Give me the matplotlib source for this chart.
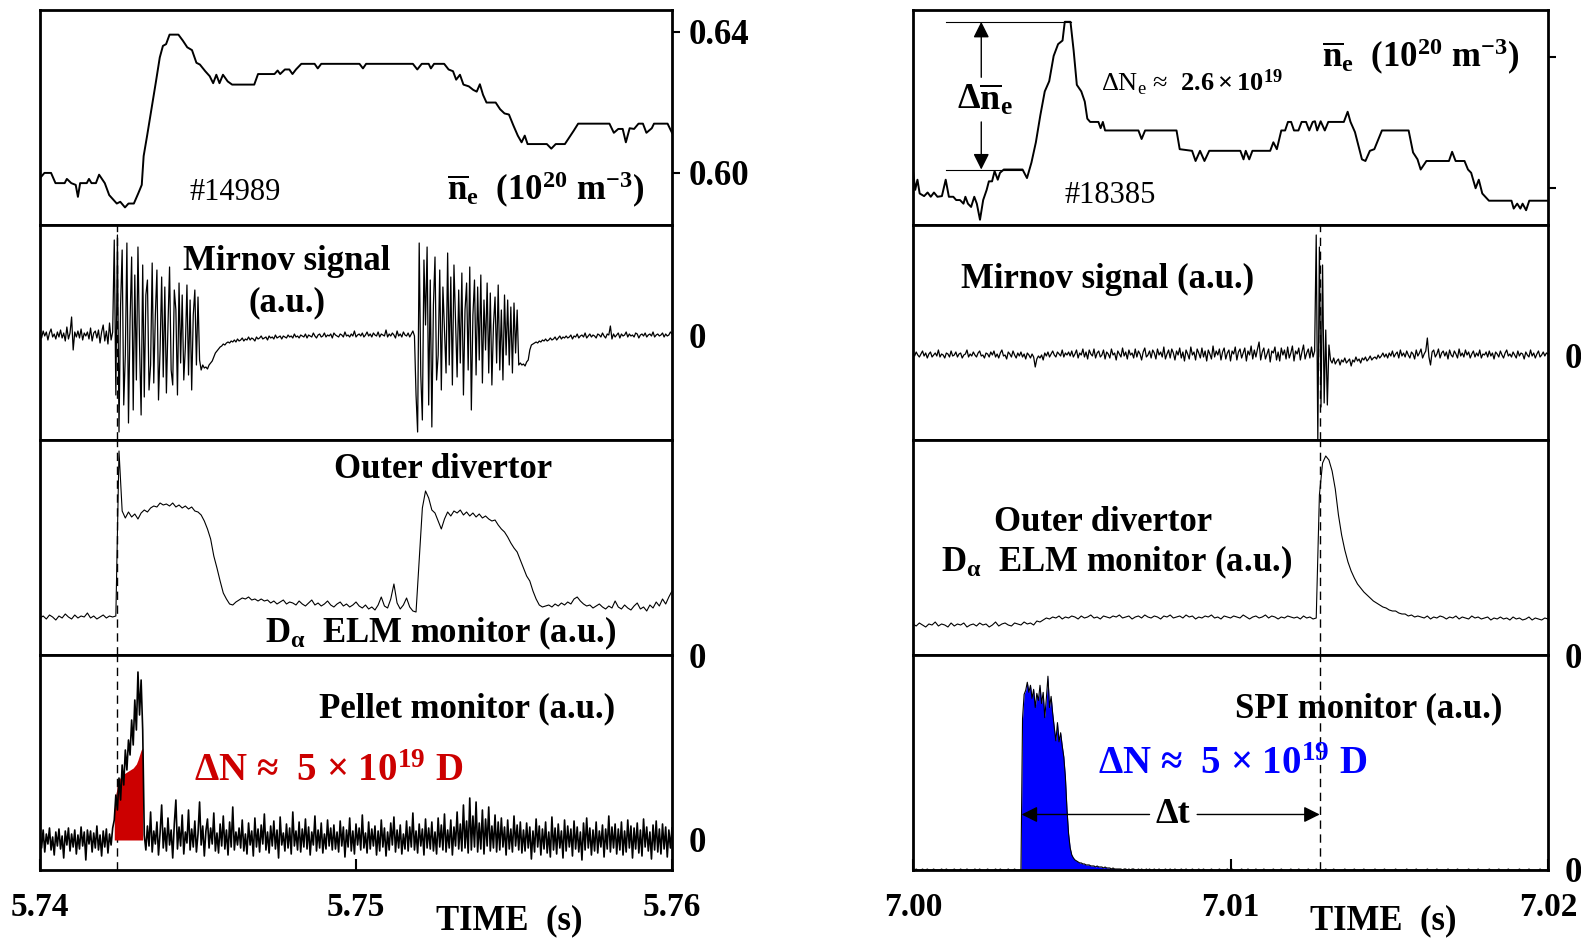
import matplotlib
matplotlib.use("Agg")
import matplotlib.pyplot as plt
import numpy as np

plt.rcParams['font.family'] = ['Liberation Serif', 'DejaVu Serif']
plt.rcParams['font.weight'] = 'bold'
plt.rcParams['mathtext.fontset'] = 'custom'
plt.rcParams['mathtext.rm'] = 'Liberation Serif'
plt.rcParams['mathtext.it'] = 'Liberation Serif:italic'
plt.rcParams['mathtext.bf'] = 'Liberation Serif:bold'
plt.rcParams['mathtext.default'] = 'regular'

# ---------------- data ----------------
T0_LEFT, T0_RIGHT = 5.74, 7.00      # s, start of each time window
DT_MS = 0.05                        # sampling of the dense traces (ms)
DT_DA_MS = 0.1                      # sampling of the D-alpha traces (ms)

# line averaged density, time in ms from window start, value in 1e20 m^-3
ne_left_ms = [0, 0.14, 0.35, 0.49, 0.78, 0.85, 0.99, 1.13, 1.20, 1.27,
              1.48, 1.55, 1.63, 1.77, 1.87, 2.05, 2.19, 2.33, 2.43, 2.54,
              2.69, 2.80, 2.97, 3.11, 3.22, 3.28, 3.39, 3.53, 3.67, 3.79,
              3.89, 3.99, 4.10, 4.38, 4.52, 4.66, 4.81, 4.95, 5.06, 5.23,
              5.37, 5.48, 5.58, 5.68, 5.79, 5.94, 6.08, 6.78, 6.90, 7.42,
              7.52, 7.60, 7.75, 7.89, 7.99, 8.10, 8.27, 8.34, 8.69, 8.79,
              8.90, 10.11, 10.22, 10.32, 11.80, 11.94, 12.08, 12.30, 12.37, 12.47,
              12.79, 12.93, 13.07, 13.17, 13.29, 13.40, 13.57, 13.71, 13.82, 13.92,
              14.02, 14.13, 14.42, 14.56, 14.70, 14.84, 14.98, 15.12, 15.24, 15.34,
              15.43, 16.04, 16.18, 16.32, 16.61, 16.75, 16.89, 17.03, 18.02, 18.16,
              18.30, 18.44, 18.54, 18.66, 18.80, 18.94, 19.08, 19.19, 19.36, 19.43,
              19.86, 20.0]
ne_left = [0.5984, 0.5999, 0.5999, 0.5970, 0.5970, 0.5982, 0.5970, 0.5965, 0.5931, 0.5970,
           0.5970, 0.5982, 0.5970, 0.5970, 0.5994, 0.5970, 0.5936, 0.5922, 0.5912, 0.5917,
           0.5901, 0.5912, 0.5912, 0.5941, 0.5965, 0.6047, 0.6105, 0.6182, 0.6259, 0.6327,
           0.6360, 0.6365, 0.6392, 0.6392, 0.6375, 0.6356, 0.6348, 0.6312, 0.6307, 0.6288,
           0.6274, 0.6254, 0.6278, 0.6254, 0.6278, 0.6259, 0.6250, 0.6250, 0.6280, 0.6280,
           0.6290, 0.6280, 0.6293, 0.6293, 0.6280, 0.6293, 0.6309, 0.6309, 0.6309, 0.6296,
           0.6309, 0.6309, 0.6296, 0.6309, 0.6309, 0.6293, 0.6309, 0.6309, 0.6296, 0.6309,
           0.6309, 0.6293, 0.6288, 0.6264, 0.6278, 0.6250, 0.6245, 0.6235, 0.6230, 0.6251,
           0.6221, 0.6199, 0.6199, 0.6180, 0.6168, 0.6165, 0.6134, 0.6105, 0.6086, 0.6105,
           0.6081, 0.6081, 0.6068, 0.6081, 0.6081, 0.6100, 0.6119, 0.6139, 0.6139, 0.6113,
           0.6124, 0.6124, 0.6086, 0.6126, 0.6124, 0.6139, 0.6139, 0.6113, 0.6126, 0.6139,
           0.6139, 0.6113]

ne_right_ms = [0, 0.07, 0.14, 0.21, 0.35, 0.46, 0.56, 0.66, 0.77, 0.91,
               1.03, 1.13, 1.27, 1.36, 1.48, 1.59, 1.65, 1.73, 1.83, 1.93,
               2.01, 2.11, 2.21, 2.32, 2.39, 2.49, 2.57, 2.67, 2.74, 2.86,
               3.45, 3.59, 3.73, 3.87, 4.01, 4.15, 4.29, 4.43, 4.57, 4.71,
               4.78, 4.96, 5.06, 5.16, 5.30, 5.41, 5.49, 5.58, 5.84, 5.91,
               5.98, 6.05, 7.10, 7.20, 7.31, 8.30, 8.40, 8.79, 8.90, 9.04,
               9.18, 9.33, 10.31, 10.41, 10.48, 10.59, 10.69, 11.25, 11.35, 11.46,
               11.60, 11.72, 11.81, 11.91, 12.00, 12.14, 12.24, 12.38, 12.48, 12.59,
               12.66, 12.73, 12.84, 12.97, 13.08, 13.57, 13.69, 13.78, 13.92, 14.14,
               14.25, 14.39, 14.53, 14.77, 15.61, 15.75, 15.89, 15.99, 16.17, 16.88,
               16.98, 17.09, 17.37, 17.48, 17.58, 17.72, 17.82, 17.93, 18.14, 18.85,
               18.92, 19.03, 19.13, 19.20, 19.31, 19.41, 20.0]
ne_right = [0.6052, 0.5995, 0.6026, 0.5984, 0.5976, 0.5987, 0.5974, 0.5987, 0.5974, 0.5976,
            0.6026, 0.5974, 0.5974, 0.5964, 0.5964, 0.5953, 0.5974, 0.5953, 0.5943, 0.5974,
            0.5953, 0.5904, 0.5964, 0.5995, 0.6021, 0.6021, 0.6052, 0.6026, 0.6047, 0.6057,
            0.6057, 0.6031, 0.6078, 0.6140, 0.6222, 0.6295, 0.6326, 0.6403, 0.6439, 0.6450,
            0.6507, 0.6507, 0.6419, 0.6315, 0.6295, 0.6264, 0.6212, 0.6202, 0.6202, 0.6183,
            0.6202, 0.6176, 0.6176, 0.6150, 0.6176, 0.6176, 0.6119, 0.6114, 0.6083, 0.6114,
            0.6083, 0.6114, 0.6114, 0.6088, 0.6114, 0.6088, 0.6114, 0.6114, 0.6140, 0.6119,
            0.6176, 0.6176, 0.6202, 0.6202, 0.6176, 0.6176, 0.6202, 0.6202, 0.6176, 0.6202,
            0.6204, 0.6176, 0.6204, 0.6176, 0.6202, 0.6202, 0.6233, 0.6202, 0.6171, 0.6088,
            0.6083, 0.6114, 0.6119, 0.6176, 0.6176, 0.6109, 0.6088, 0.6057, 0.6083, 0.6083,
            0.6111, 0.6083, 0.6083, 0.6057, 0.6047, 0.6000, 0.6026, 0.5984, 0.5962, 0.5962,
            0.5938, 0.5953, 0.5938, 0.5953, 0.5933, 0.5962, 0.5962]
NE_TICKS = [0.60, 0.64]

# Mirnov signals, every DT_MS, in 0.01 a.u.
mirnov_left = [
    2, -3, 4, -1, 3, -5, 2, 6, -2, 1, -4, 3, -2, 5, -3, 2, -6, 8, -4, 2,
    18, -15, 3, -2, 4, -3, 6, -5, 2, -1, 3, -4, 7, -6, 2, 4, -3, 5, -8, 3,
    10, -6, 4, -9, 12, -5, 3,
    # first burst
    95, -60, 100, -97, 30, 85, -70, -20, 92, -88, 15, 78, -75, 60, -45, 88, -10, -80, 70, -62,
    40, 55, -55, -30, 72, -48, 20, 65, -65, -15, 58, -42, 48, -58, 10, 68, -35, -50, 45, 25,
    -60, 52, -28, 40, -45, -12, 50, -40, 35, -55, 20, 45, -30, 38, -25, -35,
    # recovery
    -30, -33, -32, -34, -30, -28, -26, -22, -18, -16, -14, -12, -11, -9, -10, -8, -7, -8, -6, -7,
    -5, -7, -4, -6, -5, -3, -6, -4, -5, -2, -5, -3, -4, -6, -2, -4, -3, -1, -4, -3,
    -2, -5, -1, -3, -2, -4, 0, -3, -2, -1, -4, -1, -2, -3, 0, -2, -1, -3, 1, -2,
    -1, -3, 0, -1, -2, 1, -3, 0, -1, -2, 2, -1, -3, 0, 1, -2, -1, 2, -2, 0,
    -1, 1, -3, 2, 0, -1, -2, 1, 0, -2, 3, -1, 0, -2, 1, -1, 4, -2, 0, 1,
    -1, 2, -2, 0, 3, -1, 1, -2, 2, 0, -1, 3, -2, 1, 0, -1, 5, -2, 1, -1,
    2, 0, -3, 4, -1, 1, -2, 3, 0, -1, 2, -2, 1, 4, -1,
    # second burst
    -60, -97, 92, -40, -85, 75, 10, 88, -70, 55, -92, 30, 78, -45, -20, 65, -55, 48, 5, -38,
    82, -30, 58, -50, 70, 15, -42, 45, -28, 62, -60, 25, 52, -35, 68, -75, 20, 55, -40, 48,
    -25, 60, -48, 35, -15, 52, -38, 42, -50, 10, 38, -28, 50, -35, 25, -45, 40, -20, 35, -30,
    28, -38, 32, -18, 25, -30,
    # recovery
    -28, -30, -29, -31, -27, -25, -15, -10, -9, -8, -7, -8, -6, -7, -5, -6, -4, -6, -5, -3,
    -5, -4, -2, -5, -3, -1, -4, -2, -3, -1, -3, -2, 0, -4, -1, -2, 1, -3, -1, 0,
    -2, 2, -3, -1, 1, -2, 0, -1, -3, 1, 0, -2, 2, -1, -3, 1, 0, 9, -4, 1,
    -2, 0, 2, -3, 1, -1, 0, 3, -2, 1, -1, 0, -2, 2, 1, -3, 0, 1, -1, 2,
    -2, 0, 1, -1, 3, -2, 0, 1, -1, 0, 2, -2, 1, -1, 0, 3, 1]

mirnov_right = [
    2, -1, 3, 0, -2, 1, 4, -1, 2, -3, 1, 3, -2, 0, 2, -1, 5, -2, 1, 0,
    -3, 2, 1, -2, 4, -1, 0, 3, -2, 1, 2, -3, 0, 1, 5, -2, 1, -1, 3, 0,
    -2, 2, 4, -1, 0, -3, 2, 1, -2, 3,
    0, 4, -2, 1, -3, 2, 5, -1, 0, -4, 3, 1, -2, 4, 0, -3, 2, -1, 3, -2,
    1, -4, 2, 0, -3, 1, -2, -12, -4, -1, -3, 0, -5, 2, -1, 3, -2, 1, 4, 0,
    -2, 3, 1, -1, 5, -2, 2, 0, 3, -1,
    4, -2, 1, 5, -3, 2, 0, 6, -2, 3, -4, 5, 1, -1, 6, -3, 2, 4, -2, 0,
    5, -4, 3, 1, -3, 6, 0, 2, -5, 4, 1, -2, 7, -1, 3, -4, 5, 0, 2, -3,
    6, -2, 4, 1, -5, 3, 7, -2, 0, 4,
    -3, 5, 2, -4, 6, 0, 3, -2, 8, -4, 1, 5, -3, 6, 2, -5, 4, 0, 7, -3,
    3, -6, 5, 1, -4, 8, 0, 3, -5, 6, 2, -3, 7, -2, 4, -6, 5, 1, -4, 9,
    -2, 4, 0, 6, -5, 3, 7, -4, 2, 5,
    -6, 4, 1, 8, -5, 3, 6, -3, 2, 7, -6, 4, 0, 9, -4, 5, -2, 6, 13, -5,
    3, 7, -4, 1, 6, -7, 4, 2, 8, -5, 3, -6, 7, 0, 5, -4, 8, -3, 2, 9,
    -6, 4, 1, 7, -5, 3, 10, -4, 2, 6, -3, 8, -2, 4,
    # ELM crash
    120, -85, 108, -52, 90, -48, 25, -50, 10,
    -5, -8, -3, -9, -6, -4, -10, -5, -7, -3, -8, -6, -4, -11, -5, -7, -2, -6, -4, -8,
    -3, -5, -2, -6, -4, -1, -5, -3, -2, -4, 0, -3, -1, 2, -2, 1, -3,
    2, -1, 4, -2, 1, 3, -3, 5, -1, 2, -2, 4, 0, -3, 3, 1, -4, 5, -1, 2,
    6, -3, 1, 4, 17, -2, -10, 3, 5, -2, 1, 6, -3, 2, 4, -1, 3, -4, 5, 0,
    -2, 4, 1, -3, 6, -1, 2, -2, 5, 0, 3, -3, 1, 4, -2, 2, -1, 5, -3, 1,
    0, 3, -2, 4, -1, 2, -4, 3, 1, -2, 4, 0, -3, 2, 5, -1, 1, -2, 3, 0,
    -3, 4, -1, 2, 1, -4, 3, 0, -2, 5, -1, 2, -3, 1, 4, -2, 0, 3, -1, 2, 1]

# outer divertor D-alpha, every DT_DA_MS, in 0.01 a.u.
dalpha_left = [
    37, 39, 36, 40, 38, 35, 39, 37, 41, 38, 36, 40, 37, 39, 38, 42, 37, 39, 36, 38,
    40, 37, 39, 38, 39, 204,
    144, 137, 143, 138, 141, 136, 142, 145, 143, 147, 149, 148, 152, 150, 151, 149, 152, 148,
    150, 147, 149, 146, 148, 144,
    143, 140, 134, 126, 116, 99, 87, 74, 62, 56,
    51, 50, 53, 55, 57, 56, 58, 55, 56, 54, 56, 54, 55, 52, 54, 51, 53, 55, 51, 53,
    52, 50, 54, 51, 49, 52, 55, 50, 52, 49, 51, 54, 50, 48, 51, 53, 49, 51, 48, 50,
    53, 49, 47, 50, 46, 48, 45, 50, 58, 49, 47, 56, 71, 52, 46, 50, 57, 48, 44, 43,
    95, 147, 164, 157, 145, 142, 134, 126, 136, 143, 139, 144, 142, 145, 140, 143, 139, 142, 138, 141,
    137, 139, 136, 134, 135, 130, 126, 123, 118, 112, 107, 103, 95, 87, 79, 74, 64, 56, 50, 48,
    49, 50, 48, 51, 49, 52, 50, 53, 51, 56, 58, 54, 51, 49, 50, 47, 49, 51, 48, 46,
    49, 47, 54, 48, 46, 50, 47, 45, 49, 52, 46, 48, 44, 50, 47, 53, 49, 56, 51, 58, 64]

dalpha_right = [
    31, 29, 32, 30, 28, 31, 30, 33, 29, 31, 30, 28, 32, 29, 31, 30, 32, 28, 30, 31,
    29, 32, 30, 31, 28, 30, 33, 29, 31, 32, 30, 29, 32, 31, 30, 33, 31, 32, 30, 34, 33,
    35, 37, 36, 38, 37, 39, 36, 38, 37, 39, 38, 36, 39, 37, 38, 40, 37, 38, 36, 39,
    38, 37, 39, 38, 40, 37, 38, 39, 36, 38, 39, 37, 40, 38, 37, 39, 38, 36, 39, 38,
    40, 37, 38, 39, 37, 40, 38, 39, 36, 38, 37, 39, 38, 40, 37, 38, 36, 39, 38, 37,
    39, 38, 37, 40, 38, 36, 38, 39, 37, 38, 40, 37, 39, 38, 36, 38, 37, 39, 38, 37,
    38, 36, 39, 37, 38, 36,
    37, 160, 192, 199, 195, 184, 166, 140, 120, 105, 93, 84, 77, 71, 67, 63, 60, 57, 54, 52,
    50, 48, 47, 45, 44, 44, 42, 41, 41, 39, 40, 38, 39,
    38, 37, 39, 36, 38, 37, 39, 38, 36, 38, 37, 39, 36, 38, 37, 36, 39, 37, 38, 36,
    37, 38, 35, 37, 36, 38, 36, 37, 35, 38, 36, 37, 35, 36, 38, 35, 37, 36, 35, 37, 36]

# pellet monitor, every DT_MS, in 0.01 a.u.
pellet = [
    5, -8, 10, -12, 6, -4, 12, -10, 3, -15, 8, -6, 11, -9, 4, -18, 9, -5, 12, -11,
    6, -7, 10, -14, 5, -9, 13, -6, 8, -20, 10, -4, 9, -12, 7, -8, 14, -10, 5, -16,
    9, -7, 11, -13, 6, -5, 12,
    20, 45, 30, 62, 40, 75, 55, 90, 70, 100, 85, 120, 95, 140, 110, 168, 125, 160, 110,
    5, -10, 14, -6, 28, -12, 9, -4, 18, -15, 7, 35, -8, 12, -11, 22, -5, 10, -18, 16,
    40, -9, 13, -6, 25, -14, 8, -3, 30, -10, 11, -7, 19, -12, 6, 38, -5, 14, -16, 9,
    21, -8, 12, -4, 27, -11, 7, -13, 16, -6, 24, -9, 10, -15, 18, -7, 33, -10, 8, -5,
    12, -8, 20, -11, 6, -14, 17, -5, 9, -16, 22, -7, 11, -12, 15, -4, 26, -10, 8, -13,
    14, -6, 19, -9, 10, -18, 23, -5, 7, -11, 16, -8, 12, -14, 28, -6, 9, -10, 18, -12,
    11, -7, 21, -9, 13, -15, 8, -5, 24, -11, 10, -8, 17, -13, 6, -9, 20, -6, 12, -10,
    15, -9, 8, -12, 19, -6, 13, -17, 10, -7, 22, -11, 9, -14, 16, -5, 12, -10, 25, -8,
    7, -13, 18, -9, 11, -6, 14, -15, 9, -11, 20, -7, 12, -16, 8, -10, 17, -5, 23, -12,
    10, -8, 15, -14, 6, -9, 19, -11, 13, -7, 27, -10, 9, -13, 16, -6, 11, -15, 21, -8,
    12, -9, 18, -11, 8, -14, 22, -7, 15, -10, 26, -12, 10, -8, 20, -15, 13, -6, 28, -9,
    16, -11, 35, -8, 19, -13, 42, -10, 24, -7, 38, -12, 17, -9, 30, -14, 21, -6, 33, -11,
    14, -8, 25, -12, 18, -10, 22, -7, 13, -15, 20, -9, 11, -12, 24, -6, 15, -10, 18, -13,
    10, -11, 17, -8, 13, -19, 9, -12, 21, -7, 14, -15, 11, -9, 18, -13, 8, -17, 23, -10,
    12, -14, 16, -8, 9, -18, 20, -11, 14, -7, 11, -16, 19, -9, 13, -12, 8, -20, 17, -10,
    22, -8, 12, -15, 10, -11, 18, -13, 9, -7, 15, -17, 11, -9, 24, -12, 13, -8, 16, -14,
    11, -10, 18, -15, 9, -12, 20, -8, 14, -18, 12, -9, 17, -13, 10, -16, 21, -7, 13, -11,
    8, -19, 15, -10, 19, -12, 11, -14, 16, -9, 13, -17, 10, -8, 12]
# smoothed pellet pulse shown in red, every DT_MS from PELLET_FILL_MS
PELLET_FILL_MS = 2.35
pellet_fill = [30, 45, 55, 60, 63, 65, 66, 67, 68, 69, 70, 71, 72, 74, 76, 80, 85, 90, 92]

# SPI monitor, every DT_MS, in 0.01 a.u.
spi = [
    0, 0, 1, 0, 0, 0, 1, 0, 0, 1, 0, 0, 0, 1, 0, 0, 0, 0, 1, 0,
    0, 1, 0, 0, 0, 0, 1, 0, 0, 0, 1, 0, 0, 0, 1, 0, 0, 0, 0, 1,
    0, 0, 1, 0, 0, 0, 0, 1, 0, 0, 0, 0, 1, 0, 0, 1, 0, 0, 0, 0,
    1, 0, 0, 0, 1, 0, 0, 0, 0,
    150, 174, 178, 186, 176, 183, 170, 179, 161, 175, 168, 183, 165, 176, 151, 170, 192, 161, 172, 155,
    141, 128, 146, 127, 136, 123, 112, 92, 60, 36, 22, 15, 12, 10, 9, 8, 7, 7, 6, 6,
    5, 5, 5, 4, 4, 4, 3, 4, 3, 3, 3, 2, 3, 2, 2, 2, 1, 2, 1, 1, 1, 1,
    1, 0, 1, 1, 0, 1, 0, 1, 1, 0, 0, 1, 0, 1, 0, 0, 1, 0, 1, 0, 0, 1, 0, 0, 1, 0, 0, 0, 1, 0,
    0, 1, 0, 0, 1, 0, 0, 0, 1, 0, 0, 1, 0, 0, 0, 1, 0, 0, 0, 1, 0, 0, 1, 0, 0, 0, 0, 1, 0, 0,
    0, 0, 1, 0, 0, 0, 0, 1, 0, 0, 1, 0, 0, 0, 0, 0, 1, 0, 0, 0, 1, 0, 0, 0, 0, 1, 0, 0, 0, 0,
    1, 0, 0, 0, 0, 0, 1, 0, 0, 0, 0, 1, 0, 0, 0, 0, 0, 1, 0, 0, 0, 0, 1, 0, 0, 0, 0, 0, 1, 0,
    0, 0, 0, 1, 0, 0, 0, 0, 0, 1, 0, 0, 0, 0, 1, 0, 0, 0, 0, 0, 0, 1, 0, 0, 0, 0, 0, 1, 0, 0,
    0, 0, 0, 1, 0, 0, 0, 0, 0, 0, 1, 0, 0, 0, 0, 0, 1, 0, 0, 0, 0, 0, 0, 1, 0, 0, 0, 0, 0, 0,
    1, 0, 0, 0, 0, 0, 1, 0, 0, 0, 0, 0, 0, 1, 0, 0, 0, 0, 0, 1, 0, 0, 0, 0, 0, 0, 1, 0, 0, 0,
    0, 0, 1, 0, 0, 0, 0, 0, 0, 1, 0, 0, 0, 0, 0, 1, 0, 0, 0, 0, 0, 0, 1, 0, 0, 0, 0, 0, 1, 0,
    0, 0, 0, 0, 1, 0, 0, 0, 0, 0, 0, 1, 0, 0, 0, 0, 0, 1, 0, 0, 0, 0, 0, 0, 1, 0, 0, 0, 0, 0]

ELM_LEFT_MS, ELM_RIGHT_MS = 2.44, 12.81     # dashed markers
SPI_ONSET_MS = 3.42
X_TICKS_LEFT = [5.74, 5.75, 5.76]
X_TICKS_RIGHT = [7.00, 7.01, 7.02]


def sec(t0, ms):
    return t0 + np.asarray(ms, dtype=float) / 1000.0


def grid(t0, values, dt_ms, start_ms=0.0):
    return t0 + (start_ms + dt_ms * np.arange(len(values))) / 1000.0


def au(values):
    return np.asarray(values, dtype=float) / 100.0


# ---------------- layout ----------------
W, H = 1581, 938
fig = plt.figure(figsize=(W / 100, H / 100), dpi=100)
COLS = [(40, 632), (913, 635)]
TOP, PANEL_H = 10, 215


def panel(col, row):
    x, w = COLS[col]
    top = TOP + PANEL_H * row
    return fig.add_axes([x / W, 1 - (top + PANEL_H) / H, w / W, PANEL_H / H])


def style(ax, t0, ylim, yticks=(), ylabels=(), tick_len=0):
    ax.set_xlim(t0, t0 + 0.02)
    ax.set_ylim(*ylim)
    for s in ax.spines.values():
        s.set_linewidth(2.0)
    ax.yaxis.tick_right()
    ax.set_yticks(list(yticks), list(ylabels))
    ax.tick_params(axis='y', left=False, right=True, direction='out',
                   length=tick_len, width=1.5, pad=12 - tick_len, labelsize=25)
    ax.tick_params(axis='x', length=0, labelbottom=False)


def bottom_axis(ax, ticks):
    ax.set_xticks(ticks, [f"{v:.2f}" for v in ticks])
    ax.tick_params(axis='x', direction='in', length=8, width=1.5, pad=16,
                   labelsize=24, labelbottom=True, top=False)


def dashed(ax, t):
    ax.axvline(t, color='k', lw=1.0, ls=(0, (6, 4)), zorder=1)


TXT = dict(ha='center', va='center', fontsize=25)
ARROW = dict(arrowstyle='-|>', color='k', lw=1.0, mutation_scale=24,
             shrinkA=0, shrinkB=0)

# ---------- left column (#14989) ----------
a1, a2, a3, a4 = (panel(0, r) for r in range(4))

a1.plot(sec(T0_LEFT, ne_left_ms), ne_left, color='k', lw=1.4)
style(a1, T0_LEFT, (0.5851, 0.6462), NE_TICKS, [f"{v:.2f}" for v in NE_TICKS], tick_len=6)
a1.text(0.309, 0.15, '#14989', transform=a1.transAxes, ha='center', va='center',
        fontsize=22, fontweight='normal')
a1.text(0.80, 0.165, r'$\overline{n}_e$  (10$^{20}$ m$^{-3}$)', transform=a1.transAxes, **TXT)

a2.plot(grid(T0_LEFT, mirnov_left, DT_MS), au(mirnov_left), color='k', lw=0.9)
style(a2, T0_LEFT, (-1.05, 1.10), [0], ['0'])
a2.text(0.391, 0.83, 'Mirnov signal', transform=a2.transAxes, **TXT)
a2.text(0.391, 0.64, '(a.u.)', transform=a2.transAxes, **TXT)

a3.plot(grid(T0_LEFT, dalpha_left, DT_DA_MS), au(dalpha_left), color='k', lw=0.8)
style(a3, T0_LEFT, (0, 2.15), [0], ['0'])
a3.text(0.638, 0.865, 'Outer divertor', transform=a3.transAxes, **TXT)
a3.text(0.634, 0.10, r'D$_\alpha$  ELM monitor (a.u.)', transform=a3.transAxes, **TXT)

a4.fill_between(grid(T0_LEFT, pellet_fill, DT_MS, PELLET_FILL_MS), 0, au(pellet_fill),
                color='#cc0000', lw=0, zorder=2)
a4.plot(grid(T0_LEFT, pellet, DT_MS), au(pellet), color='k', lw=1.2, zorder=3)
style(a4, T0_LEFT, (-0.30, 1.85), [0], ['0'])
bottom_axis(a4, X_TICKS_LEFT)
a4.text(0.675, 0.75, 'Pellet monitor (a.u.)', transform=a4.transAxes, **TXT)
a4.text(0.457, 0.46, r'ΔN ≈  5 × 10$^{19}$ D', transform=a4.transAxes, color='#cc0000',
        ha='center', va='center', fontsize=28)
a4.text(0.742, -0.235, 'TIME  (s)', transform=a4.transAxes, **TXT)

for ax in (a2, a3, a4):
    dashed(ax, sec(T0_LEFT, ELM_LEFT_MS))

# ---------- right column (#18385) ----------
b1, b2, b3, b4 = (panel(1, r) for r in range(4))

b1.plot(sec(T0_RIGHT, ne_right_ms), ne_right, color='k', lw=1.4)
style(b1, T0_RIGHT, (0.5888, 0.6543), NE_TICKS, ['', ''], tick_len=6)
b1.text(0.31, 0.135, '#18385', transform=b1.transAxes, ha='center', va='center',
        fontsize=22, fontweight='normal')
b1.text(0.80, 0.78, r'$\overline{n}_e$  (10$^{20}$ m$^{-3}$)', transform=b1.transAxes, **TXT)
b1.text(0.44, 0.66, r'ΔN$_e$ ≈  $\mathbf{2.6 \times 10^{19}}$', transform=b1.transAxes,
        ha='center', va='center', fontsize=19, fontweight='normal')

# delta n_e marker: peak and pre-injection level
ne_peak = max(ne_right)
ne_pre = ne_right[ne_right_ms.index(3.45)]
b1.plot(sec(T0_RIGHT, [1.03, 4.99]), [ne_peak, ne_peak], color='k', lw=0.8)
b1.plot(sec(T0_RIGHT, [1.03, 3.45]), [ne_pre, ne_pre], color='k', lw=0.8)
x_arr = sec(T0_RIGHT, 2.15)
b1.annotate('', xy=(x_arr, ne_peak), xytext=(x_arr, 0.6338), arrowprops=ARROW)
b1.annotate('', xy=(x_arr, ne_pre), xytext=(x_arr, 0.6202), arrowprops=ARROW)
b1.text(sec(T0_RIGHT, 2.25), 0.6268, r'Δ$\overline{n}_e$', ha='center', va='center', fontsize=26)

b2.plot(grid(T0_RIGHT, mirnov_right, DT_MS), au(mirnov_right), color='k', lw=0.9)
style(b2, T0_RIGHT, (-0.85, 1.30), [0], ['0'])
b2.text(0.307, 0.745, 'Mirnov signal (a.u.)', transform=b2.transAxes, **TXT)

b3.plot(grid(T0_RIGHT, dalpha_right, DT_DA_MS), au(dalpha_right), color='k', lw=0.8)
style(b3, T0_RIGHT, (0, 2.15), [0], ['0'])
b3.text(0.30, 0.615, 'Outer divertor', transform=b3.transAxes, **TXT)
b3.text(0.321, 0.43, r'D$_\alpha$  ELM monitor (a.u.)', transform=b3.transAxes, **TXT)

t_spi = grid(T0_RIGHT, spi, DT_MS)
b4.fill_between(t_spi, 0, au(spi), color='#0000ff', lw=0, zorder=2)
b4.plot(t_spi, au(spi), color='k', lw=0.8, zorder=3)
style(b4, T0_RIGHT, (0, 2.13), [0], ['0'])
bottom_axis(b4, X_TICKS_RIGHT)
b4.text(0.718, 0.75, 'SPI monitor (a.u.)', transform=b4.transAxes, **TXT)
b4.text(0.504, 0.49, r'ΔN ≈  5 × 10$^{19}$ D', transform=b4.transAxes, color='#0000ff',
        ha='center', va='center', fontsize=28)
b4.text(0.74, -0.235, 'TIME  (s)', transform=b4.transAxes, **TXT)

y_dt = 0.55
b4.annotate('', xy=(sec(T0_RIGHT, SPI_ONSET_MS), y_dt), xytext=(sec(T0_RIGHT, 7.45), y_dt),
            arrowprops=ARROW, zorder=4)
b4.annotate('', xy=(sec(T0_RIGHT, ELM_RIGHT_MS), y_dt), xytext=(sec(T0_RIGHT, 8.95), y_dt),
            arrowprops=ARROW, zorder=4)
b4.text(sec(T0_RIGHT, 8.2), y_dt, 'Δt', ha='center', va='center', fontsize=26)

for ax in (b2, b3, b4):
    dashed(ax, sec(T0_RIGHT, ELM_RIGHT_MS))

fig.savefig('out.png', dpi=100)
